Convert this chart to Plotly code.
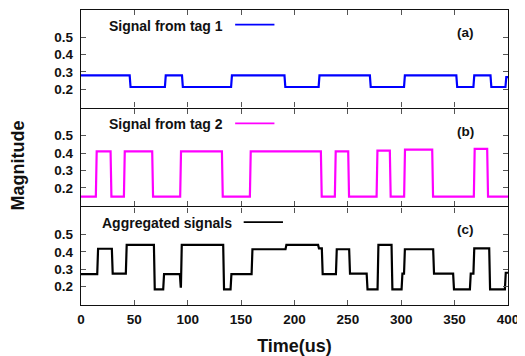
import plotly.graph_objects as go
from plotly.subplots import make_subplots

# ---- data ----
tag1_edges = [0, 46, 79, 95, 141, 191, 223, 271, 303, 352, 368, 384, 398, 400]
tag1_levels = [0.28, 0.213, 0.28, 0.213, 0.28, 0.213, 0.28, 0.213, 0.28, 0.213, 0.28, 0.213, 0.27]

tag2_edges = [0, 14.3, 28.1, 40.6, 67.1, 93.3, 132.4, 158.6, 225.1, 238.2, 250.7,
              277.3, 289.7, 303.1, 329.4, 368.4, 380.9, 400]
tag2_levels = [0.15, 0.41, 0.15, 0.41, 0.15, 0.41, 0.15, 0.41, 0.15, 0.41, 0.15,
               0.415, 0.15, 0.42, 0.15, 0.425, 0.15]

agg_edges = [0, 15.6, 29.3, 42.4, 68.7, 77.4, 93, 94, 133.6, 140.5, 160.2, 192, 222.5,
             226, 239.2, 251.6, 268, 278.2, 291.3, 300.7, 303, 330.3, 349, 364.7, 368,
             382.8, 397.5, 400]
agg_levels = [0.272, 0.418, 0.275, 0.44, 0.185, 0.272, 0.2, 0.44, 0.185, 0.272, 0.415,
              0.44, 0.42, 0.272, 0.415, 0.275, 0.185, 0.44, 0.185, 0.275, 0.415, 0.275,
              0.185, 0.275, 0.42, 0.185, 0.28]

x_ticks = [0, 50, 100, 150, 200, 250, 300, 350, 400]
y_ticks = [0.2, 0.3, 0.4, 0.5]
legend_names = ["Signal from tag 1", "Signal from tag 2", "Aggregated signals"]
panel_labels = ["(a)", "(b)", "(c)"]
colors = ["#0000ff", "#ff00ff", "#000000"]


def steps(edges, levels, ramp=0.8):
    xs, ys = [], []
    for i, lv in enumerate(levels):
        a, b = edges[i], edges[i + 1]
        xs.append(a if i == 0 else a + ramp / 2)
        ys.append(lv)
        xs.append(b if i == len(levels) - 1 else b - ramp / 2)
        ys.append(lv)
    return xs, ys


series = [(tag1_edges, tag1_levels), (tag2_edges, tag2_levels), (agg_edges, agg_levels)]

fig = make_subplots(rows=3, cols=1, shared_xaxes=True, vertical_spacing=0.004)
font = "Liberation Sans, Arial, sans-serif"

for r, ((e, l), c) in enumerate(zip(series, colors), start=1):
    xs, ys = steps(e, l)
    fig.add_trace(go.Scatter(x=xs, y=ys, mode="lines", line=dict(color=c, width=2.2),
                             showlegend=False), row=r, col=1)
    fig.update_yaxes(range=[0.095, 0.655], tickvals=y_ticks,
                     ticktext=[f"<b>{v:.1f}</b>" for v in y_ticks],
                     ticks="inside", ticklen=5, tickcolor="#555", tickwidth=1,
                     showline=True, linecolor="#111", linewidth=1.3, mirror="ticks",
                     showgrid=False, zeroline=False, automargin=False,
                     ticklabelstandoff=4,
                     tickfont=dict(family=font, size=13.5, color="#111"),
                     row=r, col=1)
    fig.update_xaxes(range=[0, 400], tickvals=x_ticks,
                     ticktext=[f"<b>{v}</b>" for v in x_ticks],
                     ticks="inside", ticklen=5,
                     tickcolor="#555", tickwidth=1, showline=True, linecolor="#111",
                     linewidth=1.3, mirror="ticks", showgrid=False, zeroline=False,
                     showticklabels=(r == 3), automargin=False,
                     ticklabelstandoff=2,
                     tickfont=dict(family=font, size=13.5, color="#111"),
                     row=r, col=1)

    xd = "x domain" if r == 1 else f"x{r} domain"
    yd = "y domain" if r == 1 else f"y{r} domain"
    fig.add_annotation(text=f"<b>{legend_names[r-1]}</b>", xref=xd, yref=yd,
                       x=(0.062 if r < 3 else 0.045), y=0.84, xanchor="left", yanchor="middle",
                       showarrow=False, font=dict(family=font, size=14, color="#111"))
    x0 = 0.361 if r < 3 else 0.381
    fig.add_shape(type="line", xref=xd, yref=yd, x0=x0, x1=x0 + 0.092, y0=0.85, y1=0.85,
                  line=dict(color=colors[r-1], width=1.8))
    fig.add_annotation(text=f"<b>{panel_labels[r-1]}</b>", xref=xd, yref=yd,
                       x=0.9, y=0.77, xanchor="center", yanchor="middle",
                       showarrow=False, font=dict(family=font, size=13.5, color="#111"))

fig.update_xaxes(title=dict(text="<b>Time(us)</b>", standoff=14,
                            font=dict(family=font, size=18, color="#111")), row=3, col=1)
fig.add_annotation(text="<b>Magnitude</b>", xref="paper", yref="paper", x=-0.148, y=0.472,
                   textangle=-90, showarrow=False, xanchor="center", yanchor="middle",
                   font=dict(family=font, size=18, color="#111"))

# the page body has an 8px margin, so the figure is drawn 8px right and down
fig.update_layout(width=517, height=348, margin=dict(l=73, r=17, t=2, b=51),
                  plot_bgcolor="white", paper_bgcolor="white")
fig.write_html("out.html")
